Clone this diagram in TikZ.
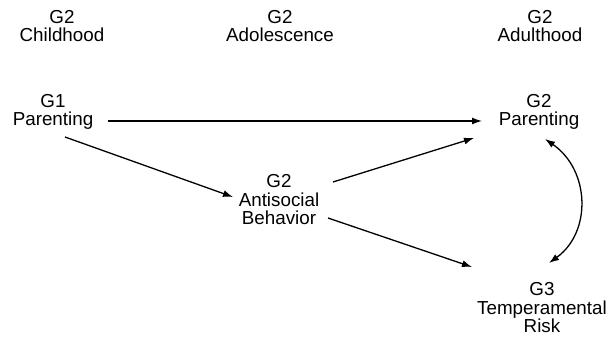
\documentclass[tikz,border=0pt]{standalone}
\usepackage{fontspec}
\setmainfont{Liberation Sans}
\usetikzlibrary{arrows.meta}
\begin{document}
\begin{tikzpicture}[x=1pt,y=-1pt,
  lbl/.style={align=center,anchor=base,inner sep=0pt,font=\fontsize{18.8}{18.6}\selectfont},
  arr/.style={line width=1.3pt,-{Latex[length=10pt,width=7pt]}},
  darr/.style={line width=1.3pt,{Latex[length=10pt,width=7pt]}-{Latex[length=10pt,width=7pt]}}]
\useasboundingbox (0,0) rectangle (614,339);
\node[lbl] (hc) at (62,42) {G2\\Childhood};
\node[lbl] (ha) at (280,42) {G2\\Adolescence};
\node[lbl] (hd) at (540,42) {G2\\Adulthood};
\node[lbl] (g1) at (53,126) {G1\\Parenting};
\node[lbl] (g2p) at (539,126) {G2\\Parenting};
\node[lbl] (asb) at (279,225) {G2\\Antisocial\\Behavior};
\node[lbl] (g3) at (542,333) {G3\\Temperamental\\Risk};
\coordinate (g1r) at (108,121);
\coordinate (g2pl) at (482,121);
\coordinate (g1b) at (65,137);
\coordinate (asbl) at (233,197);
\coordinate (asbr1) at (333,182);
\coordinate (g2pb) at (474,138);
\coordinate (asbr2) at (328,218);
\coordinate (g3l) at (472,267);
\coordinate (g2pc) at (545,139);
\coordinate (g3t) at (549,263);
\draw[arr] (g1r) -- (g2pl);
\draw[arr] (g1b) -- (asbl);
\draw[arr] (asbr1) -- (g2pb);
\draw[arr] (asbr2) -- (g3l);
\draw[darr] (g2pc) .. controls (590,170) and (592,232) .. (g3t);
\end{tikzpicture}
\end{document}
